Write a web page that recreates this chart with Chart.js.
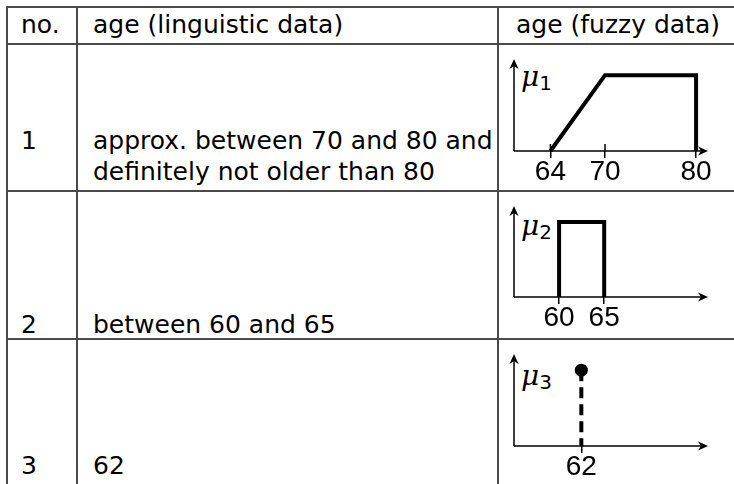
<!DOCTYPE html>
<html>
<head>
<meta charset="utf-8">
<script src="https://cdn.jsdelivr.net/npm/chart.js@4.4.1/dist/chart.umd.min.js"></script>
<style>
  body { margin: 0; width: 734px; height: 484px; background: #fff; position: relative; overflow: hidden; font-family: "DejaVu Sans", sans-serif; }
  .ln { position: absolute; background: #4a4a4a; }
  .txt { position: absolute; font-size: 25px; line-height: 25px; white-space: nowrap; color: #000; }
  .mu { position: absolute; font-family: "DejaVu Serif", serif; font-style: italic; font-size: 28px; line-height: 24px; white-space: nowrap; }
  .mu sub { font-style: normal; font-family: "DejaVu Sans", sans-serif; font-size: 20px; vertical-align: -4px; }
  canvas { position: absolute; }
</style>
</head>
<body>
<script>
// table content
const headers = ['no.', 'age (linguistic data)', 'age (fuzzy data)'];
const rowNumbers = ['1', '2', '3'];
const linguistic = [
  ['approx. between 70 and 80 and', 'definitely not older than 80'],
  ['between 60 and 65'],
  ['62']
];

// fuzzy membership functions (age -> degree)
const ages1 = [64, 70, 80, 80];
const degrees1 = [0, 1, 1, 0];
const ages2 = [60, 60, 65, 65];
const degrees2 = [0, 1, 1, 0];
const ages3 = [62, 62];
const degrees3 = [1, 0];

// tick labels on the age axes
const ticks1 = [64, 70, 80];
const ticks2 = [60, 65];
const ticks3 = [62];

// helpers to put stuff on the page
function line(x, y, w, h) {
  const d = document.createElement('div');
  d.className = 'ln';
  d.style.left = x + 'px'; d.style.top = y + 'px';
  d.style.width = w + 'px'; d.style.height = h + 'px';
  document.body.appendChild(d);
}
function text(str, x, baseline) {
  const d = document.createElement('div');
  d.className = 'txt';
  d.textContent = str;
  d.style.left = x + 'px'; d.style.top = (baseline - 21) + 'px';
  document.body.appendChild(d);
}
function muLabel(idx, x, baseline) {
  const d = document.createElement('div');
  d.className = 'mu';
  d.innerHTML = '\u03bc<sub>' + idx + '</sub>';
  d.style.left = x + 'px'; d.style.top = (baseline - 19) + 'px';
  document.body.appendChild(d);
}

// grid of the table
[6, 43, 190, 338].forEach(y => line(6, y, 734, 2));
[6, 76, 497].forEach(x => line(x, 6, 2, 484));

text(headers[0], 21, 33);
text(headers[1], 93, 33);
text(headers[2], 516, 33);

const baselines = [[149, 180], [333], [474]];
rowNumbers.forEach((n, i) => {
  const b = baselines[i];
  text(n, 21, b[0]);
  linguistic[i].forEach((s, j) => text(s, 93, b[j]));
});

muLabel(1, 521, 84);
muLabel(2, 521, 233);
muLabel(3, 521, 383);

// draws a latex style arrow head
function arrowHead(ctx, x, y, angle) {
  ctx.save();
  ctx.translate(x, y);
  ctx.rotate(angle);
  ctx.beginPath();
  ctx.moveTo(1, 0);
  ctx.lineTo(-9, -4.5);
  ctx.lineTo(-6, 0);
  ctx.lineTo(-9, 4.5);
  ctx.closePath();
  ctx.fill();
  ctx.restore();
}

const arrowAxes = {
  id: 'arrowAxes',
  afterDraw(chart) {
    const ctx = chart.ctx;
    const a = chart.chartArea;
    const xs = chart.scales.x;
    ctx.save();
    ctx.strokeStyle = '#000';
    ctx.fillStyle = '#000';
    ctx.lineWidth = 1.5;
    ctx.beginPath();
    ctx.moveTo(a.left, a.bottom);
    ctx.lineTo(a.right - 5, a.bottom);
    ctx.moveTo(a.left, a.bottom);
    ctx.lineTo(a.left, a.top + 5);
    // upper half of the tick marks
    xs.ticks.forEach(t => {
      const px = xs.getPixelForValue(t.value);
      ctx.moveTo(px, a.bottom - 7);
      ctx.lineTo(px, a.bottom);
    });
    ctx.stroke();
    arrowHead(ctx, a.right, a.bottom, 0);
    arrowHead(ctx, a.left, a.top, -Math.PI / 2);
    ctx.restore();
  }
};

function makeFuzzyChart(top, height, axisHeight, ages, degrees, tickVals, xMin, xMax, dashed) {
  const cv = document.createElement('canvas');
  cv.width = 234; cv.height = height;
  cv.style.left = '500px'; cv.style.top = top + 'px';
  document.body.appendChild(cv);

  const pts = ages.map((x, i) => ({ x: x, y: degrees[i] }));
  return new Chart(cv.getContext('2d'), {
    type: 'scatter',
    data: {
      datasets: [{
        data: pts,
        showLine: true,
        borderColor: '#000',
        borderWidth: 4,
        borderJoinStyle: 'miter',
        borderDash: dashed ? [11, 6] : [],
        pointRadius: dashed ? [6.5, 0] : 0,
        pointBackgroundColor: '#000',
        pointBorderWidth: 0,
        clip: false
      }]
    },
    options: {
      responsive: false,
      animation: false,
      layout: { padding: { left: 14, right: 27, top: 16, bottom: 0 } },
      plugins: { legend: { display: false }, tooltip: { enabled: false } },
      scales: {
        x: {
          type: 'linear',
          min: xMin,
          max: xMax,
          afterBuildTicks: s => { s.ticks = tickVals.map(v => ({ value: v })); },
          afterFit: s => { s.height = axisHeight; },
          grid: { drawOnChartArea: false, color: '#000', lineWidth: 1.5, tickLength: 7 },
          border: { display: false },
          ticks: { color: '#000', font: { family: 'Liberation Sans', size: 28 }, padding: -3, maxRotation: 0, autoSkip: false }
        },
        y: { display: false, min: 0, max: 1.2 }
      }
    },
    plugins: [arrowAxes]
  });
}

makeFuzzyChart(44, 147, 40, ages1, degrees1, ticks1, 60, 81.2, false);
makeFuzzyChart(191, 148, 42, ages2, degrees2, ticks2, 55, 76.4, false);
makeFuzzyChart(339, 145, 38, ages3, degrees3, ticks3, 54.5, 76, true);
</script>
</body>
</html>
